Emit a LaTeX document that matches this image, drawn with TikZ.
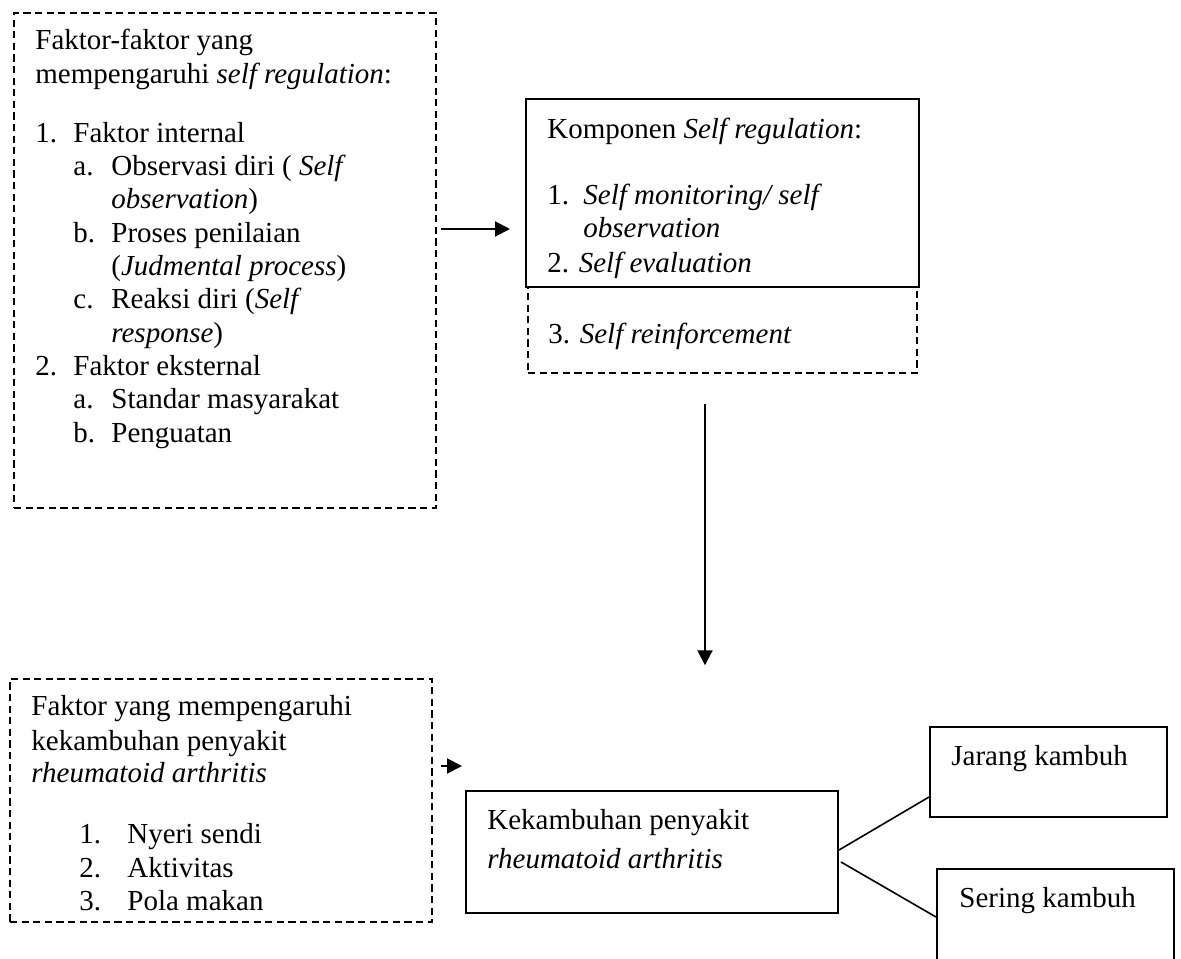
\documentclass[tikz,border=0pt]{standalone}
\usepackage{fontspec}
\setmainfont{Liberation Serif}
\usetikzlibrary{arrows.meta,fit,calc}
\newcommand{\fsz}{\fontsize{14.5pt}{16.6pt}\selectfont}
\tikzset{
  sbox/.style={draw, line width=1pt, inner sep=0pt, rectangle},
  dbox/.style={draw, line width=1.25pt, inner sep=0pt, rectangle, dash pattern=on 3.6pt off 2.2pt},
  txt/.style={anchor=base west, inner sep=0pt, font=\fsz},
  arr/.style={line width=1pt, -{Triangle[length=7.5pt,width=7.5pt]}},
  conn/.style={line width=0.8pt},
}
\begin{document}
\begin{tikzpicture}[x=0.5pt,y=-0.5pt]
\useasboundingbox (0,0) rectangle (1181,958);
\clip (0,0) rectangle (1181,958);
% box corner coordinates
\coordinate (b1a) at (14,13);   \coordinate (b1b) at (436,508);
\coordinate (b2a) at (526,99);  \coordinate (b2b) at (919,287);
\coordinate (b3a) at (528,287); \coordinate (b3b) at (917,373);
\coordinate (b4a) at (10,679);  \coordinate (b4b) at (432,922);
\coordinate (b5a) at (466,791); \coordinate (b5b) at (838,913);
\coordinate (b6a) at (930,727); \coordinate (b6b) at (1167,817);
\coordinate (b7a) at (937,869); \coordinate (b7b) at (1174,1000);
% boxes
\node[dbox, fit=(b1a)(b1b)] (b1) {};
\node[dbox, fit=(b3a)(b3b)] (b3) {};
\node[sbox, fill=white, fit=(b2a)(b2b)] (b2) {};
\node[dbox, fit=(b4a)(b4b)] (b4) {};
\node[sbox, fit=(b5a)(b5b)] (b5) {};
\node[sbox, fit=(b6a)(b6b)] (b6) {};
\node[sbox, fit=(b7a)(b7b)] (b7) {};
% box 1 text
\node[txt] (t11) at (35,49) {Faktor-faktor yang};
\node[txt] (t12) at (35,83) {mempengaruhi \textit{self regulation}:};
\node[txt] (t13) at (35,142) {\makebox[19pt][l]{1.}Faktor internal};
\node[txt] (t14) at (73,175.3) {\makebox[19pt][l]{a.}Observasi diri ( \textit{Self}};
\node[txt] (t15) at (111,208.6) {\textit{observation})};
\node[txt] (t16) at (73,242) {\makebox[19pt][l]{b.}Proses penilaian};
\node[txt] (t17) at (111,275.3) {(\textit{Judmental process})};
\node[txt] (t18) at (73,308.6) {\makebox[19pt][l]{c.}Reaksi diri (\textit{Self}};
\node[txt] (t19) at (111,342) {\textit{response})};
\node[txt] (t110) at (35,375.3) {\makebox[19pt][l]{2.}Faktor eksternal};
\node[txt] (t111) at (73,408.6) {\makebox[19pt][l]{a.}Standar masyarakat};
\node[txt] (t112) at (73,442) {\makebox[19pt][l]{b.}Penguatan};
% box 2 / 3 text
\node[txt] (t21) at (547,138) {Komponen \textit{Self regulation}:};
\node[txt] (t22) at (547,204) {\makebox[18pt][l]{1.}\textit{Self monitoring/ self}};
\node[txt] (t23) at (583,237) {\textit{observation}};
\node[txt] (t24) at (547,272) {2. \textit{Self evaluation}};
\node[txt] (t31) at (548,343) {3. \textit{Self reinforcement}};
% box 4 text
\node[txt] (t41) at (31,715) {Faktor yang mempengaruhi};
\node[txt] (t42) at (31,750) {kekambuhan penyakit};
\node[txt] (t43) at (31,782) {\textit{rheumatoid arthritis}};
\node[txt] (t44) at (79,843) {\makebox[24pt][l]{1.}Nyeri sendi};
\node[txt] (t45) at (79,877) {\makebox[24pt][l]{2.}Aktivitas};
\node[txt] (t46) at (79,910) {\makebox[24pt][l]{3.}Pola makan};
% box 5,6,7 text
\node[txt] (t51) at (487,829) {Kekambuhan penyakit};
\node[txt] (t52) at (487,868) {\textit{rheumatoid arthritis}};
\node[txt] (t61) at (951,765) {Jarang kambuh};
\node[txt] (t71) at (959,907) {Sering kambuh};
% connectors
\coordinate (a1s) at ([shift={(4,-31.5)}]b1.east);
\draw[arr, shorten >=7.5pt] (a1s) -- (a1s -| b2.west);
\coordinate (a2s) at ([shift={(-17.5,30)}]b3.south);
\coordinate (a2e) at ([shift={(0,261)}]a2s);
\draw[arr] (a2s) -- (a2e);
\coordinate (a3s) at ([shift={(8,-34.5)}]b4.east);
\draw[arr, shorten >=1.5pt] (a3s) -- (a3s -| b5.west);
\draw[conn] ([shift={(0,-2)}]b5.east) -- ([shift={(0,25)}]b6.west);
\draw[conn] ([shift={(2,10)}]b5.east) -- ([shift={(0,-17.5)}]b7.west);
\end{tikzpicture}
\end{document}
